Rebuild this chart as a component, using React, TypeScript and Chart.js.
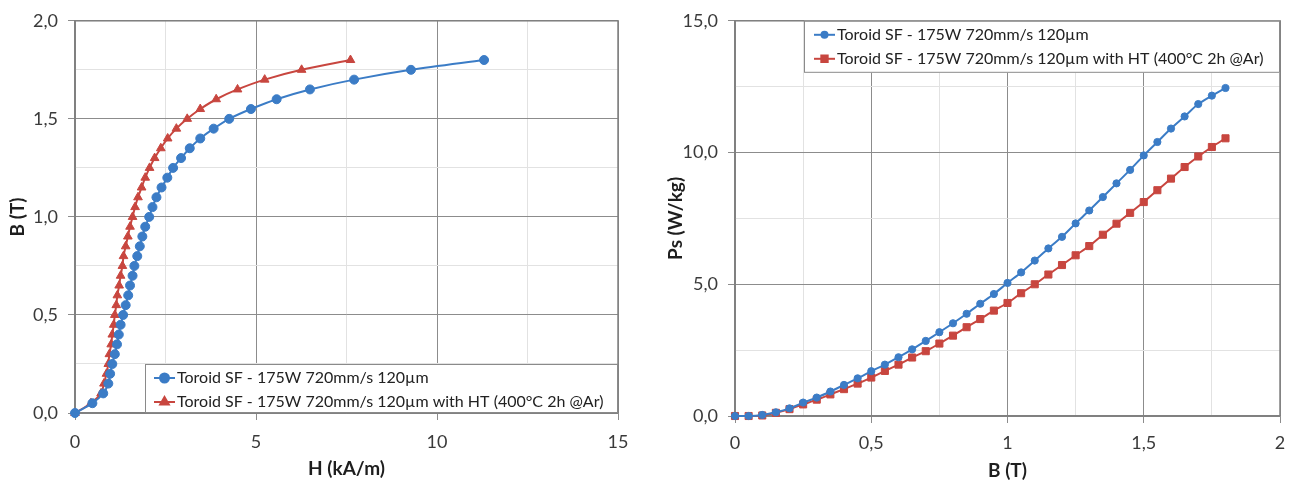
import React, { useEffect, useRef } from 'react';
import { Chart, registerables } from 'chart.js';
import { drawPoint } from 'chart.js/helpers';

Chart.register(...registerables);

// ---------- data ----------
const B_LEVELS = [
  0, 0.05, 0.1, 0.15, 0.2, 0.25, 0.3, 0.35, 0.4, 0.45, 0.5, 0.55, 0.6, 0.65, 0.7, 0.75,
  0.8, 0.85, 0.9, 0.95, 1.0, 1.05, 1.1, 1.15, 1.2, 1.25, 1.3, 1.35, 1.4, 1.45, 1.5, 1.55,
  1.6, 1.65, 1.7, 1.75, 1.8,
];

const H_AS_BUILT = [
  0, 0.48, 0.78, 0.92, 0.97, 1.03, 1.1, 1.16, 1.21, 1.26, 1.33, 1.4, 1.47, 1.52, 1.59, 1.64,
  1.72, 1.79, 1.86, 1.94, 2.05, 2.14, 2.25, 2.39, 2.55, 2.71, 2.93, 3.17, 3.46, 3.83, 4.26, 4.86,
  5.57, 6.49, 7.71, 9.28, 11.3,
];

const H_HT = [
  0, 0.44, 0.72, 0.8, 0.87, 0.92, 0.95, 1.0, 1.03, 1.07, 1.1, 1.14, 1.17, 1.22, 1.26, 1.31,
  1.34, 1.4, 1.46, 1.52, 1.59, 1.66, 1.74, 1.84, 1.94, 2.06, 2.2, 2.37, 2.56, 2.8, 3.1, 3.46,
  3.9, 4.49, 5.24, 6.26, 7.61,
];

const PS_AS_BUILT = [
  0, 0, 0.04, 0.14, 0.29, 0.51, 0.7, 0.93, 1.18, 1.43, 1.7, 1.95, 2.23, 2.53, 2.85, 3.18,
  3.52, 3.88, 4.26, 4.63, 5.05, 5.45, 5.9, 6.36, 6.8, 7.31, 7.8, 8.31, 8.83, 9.34, 9.89, 10.4,
  10.91, 11.37, 11.84, 12.16, 12.45,
];

const PS_HT = [
  0, 0, 0.02, 0.12, 0.26, 0.44, 0.62, 0.82, 1.02, 1.23, 1.46, 1.71, 1.95, 2.22, 2.46, 2.75,
  3.05, 3.37, 3.68, 4.0, 4.29, 4.66, 5.0, 5.37, 5.73, 6.1, 6.45, 6.88, 7.3, 7.71, 8.12, 8.57,
  9.01, 9.45, 9.85, 10.21, 10.54,
];

const SERIES_AS_BUILT = 'Toroid SF - 175W 720mm/s 120µm';
const SERIES_HT = 'Toroid SF - 175W 720mm/s 120µm with HT (400°C 2h @Ar)';

const LEFT_X_TITLE = 'H (kA/m)';
const LEFT_Y_TITLE = 'B (T)';
const RIGHT_X_TITLE = 'B (T)';
const RIGHT_Y_TITLE = 'Ps (W/kg)';

// ---------- styles ----------
const BLUE = '#3B7CC6';
const RED = '#C8463F';
const MAJOR = '#8c8c8c';
const MINOR = '#e2e2e2';
const FRAME = '#808080';
const TICK_COLOR = '#3a3a3a';
const TITLE_COLOR = '#1e1e1e';
const FONT = 'Lato, "Open Sans", sans-serif';

const comma = (v: number, digits?: number) =>
  (digits === undefined ? String(v) : v.toFixed(digits)).replace('.', ',');

const isMult = (v: number, step: number) => Math.abs(v / step - Math.round(v / step)) < 1e-6;

const framePlugin = {
  id: 'frame',
  beforeDatasetsDraw(chart: any) {
    const { ctx, chartArea } = chart;
    ctx.save();
    ctx.strokeStyle = FRAME;
    ctx.lineWidth = 1.5;
    ctx.strokeRect(chartArea.left, chartArea.top, chartArea.right - chartArea.left, chartArea.bottom - chartArea.top);
    ctx.restore();
  },
};

const boxLegendPlugin = {
  id: 'boxLegend',
  afterDraw(chart: any, _args: any, o: any) {
    const { ctx, chartArea } = chart;
    const x = chartArea.right - o.width;
    const y = o.corner === 'bottom' ? chartArea.bottom - o.height : chartArea.top;
    ctx.save();
    ctx.fillStyle = '#ffffff';
    ctx.fillRect(x, y, o.width, o.height);
    ctx.strokeStyle = '#8a8a8a';
    ctx.lineWidth = 1;
    ctx.strokeRect(x + 0.5, y + 0.5, o.width - 1, o.height - 1);
    chart.data.datasets.forEach((ds: any, i: number) => {
      const ry = y + o.rows[i];
      const lx = x + o.lineStart;
      ctx.strokeStyle = ds.borderColor;
      ctx.fillStyle = ds.borderColor;
      ctx.lineWidth = 2;
      ctx.beginPath();
      ctx.moveTo(lx, ry);
      ctx.lineTo(lx + o.lineLen, ry);
      ctx.stroke();
      drawPoint(ctx, { pointStyle: ds.pointStyle, radius: o.markerRadius[i], rotation: 0, borderWidth: 1 } as any, lx + o.lineLen / 2, ry);
      ctx.fillStyle = '#222222';
      ctx.font = `${o.fontSize}px ${FONT}`;
      ctx.textBaseline = 'middle';
      ctx.textAlign = 'left';
      ctx.fillText(ds.label, lx + o.lineLen + 2, ry);
    });
    ctx.restore();
  },
};

type AxisSpec = {
  min: number;
  max: number;
  step: number;
  major: number;
  fmt: (v: number) => string;
  title: string;
  size: number;
  tickPad: number;
  titlePad: any;
};

function makeAxis(a: AxisSpec, horizontal: boolean) {
  return {
    type: 'linear',
    position: horizontal ? 'bottom' : 'left',
    min: a.min,
    max: a.max,
    afterFit(scale: any) {
      if (horizontal) scale.height = a.size;
      else scale.width = a.size;
    },
    afterBuildTicks(scale: any) {
      const ticks = [];
      const n = Math.round((a.max - a.min) / a.step);
      for (let i = 0; i <= n; i++) ticks.push({ value: a.min + i * a.step });
      scale.ticks = ticks;
    },
    ticks: {
      autoSkip: false,
      maxRotation: 0,
      padding: a.tickPad,
      color: TICK_COLOR,
      font: { family: FONT, size: 18 },
      callback: (v: number) => (isMult(v, a.major) ? a.fmt(v) : ''),
    },
    grid: {
      color: (c: any) => (c.tick && isMult(c.tick.value, a.major) ? MAJOR : MINOR),
      tickColor: (c: any) => (c.tick && isMult(c.tick.value, a.major) ? MAJOR : 'rgba(0,0,0,0)'),
      tickLength: 7,
      lineWidth: 1,
    },
    border: { display: true, color: FRAME, width: 1.5 },
    title: {
      display: true,
      text: a.title,
      color: TITLE_COLOR,
      font: { family: FONT, size: 19, weight: 'bold' },
      padding: a.titlePad,
    },
  };
}

function ChartCanvas({ config, width, height, left }: any) {
  const ref = useRef<HTMLCanvasElement>(null);
  useEffect(() => {
    if (!ref.current) return;
    const chart = new Chart(ref.current, config);
    return () => chart.destroy();
  }, []);
  return (
    <canvas
      ref={ref}
      width={width}
      height={height}
      style={{ position: 'absolute', left, top: 0, width, height }}
    />
  );
}

const toPoints = (xs: number[], ys: number[]) => xs.map((x, i) => ({ x, y: ys[i] }));

const leftConfig: any = {
  type: 'scatter',
  data: {
    datasets: [
      {
        label: SERIES_AS_BUILT,
        data: toPoints(H_AS_BUILT, B_LEVELS),
        showLine: true,
        clip: false,
        borderColor: BLUE,
        backgroundColor: BLUE,
        borderWidth: 2,
        tension: 0.3,
        pointStyle: 'circle',
        pointRadius: 4.5,
        pointBorderWidth: 1,
      },
      {
        label: SERIES_HT,
        data: toPoints(H_HT, B_LEVELS),
        showLine: true,
        clip: false,
        borderColor: RED,
        backgroundColor: RED,
        borderWidth: 2,
        tension: 0.3,
        pointStyle: 'triangle',
        pointRadius: 5,
        pointBorderWidth: 1,
      },
    ],
  },
  options: {
    responsive: false,
    animation: false,
    devicePixelRatio: 1,
    layout: { padding: { top: 18, right: 32, bottom: 0, left: 0 } },
    scales: {
      x: makeAxis({ min: 0, max: 15, step: 2.5, major: 5, fmt: (v) => String(v), title: LEFT_X_TITLE, size: 69, tickPad: 11, titlePad: { top: 0, bottom: 2 } }, true),
      y: makeAxis({ min: 0, max: 2, step: 0.25, major: 0.5, fmt: (v) => comma(v, 1), title: LEFT_Y_TITLE, size: 75, tickPad: 10, titlePad: { top: 6, bottom: 0 } }, false),
    },
    plugins: {
      legend: { display: false },
      tooltip: { enabled: false },
      boxLegend: {
        corner: 'bottom',
        width: 473,
        height: 49,
        rows: [14, 38],
        lineStart: 9,
        lineLen: 21,
        markerRadius: [4.5, 5],
        fontSize: 16,
      },
    },
  },
  plugins: [framePlugin, boxLegendPlugin],
};

const rightConfig: any = {
  type: 'scatter',
  data: {
    datasets: [
      {
        label: SERIES_AS_BUILT,
        data: toPoints(B_LEVELS, PS_AS_BUILT),
        showLine: true,
        clip: false,
        borderColor: BLUE,
        backgroundColor: BLUE,
        borderWidth: 2,
        tension: 0.3,
        pointStyle: 'circle',
        pointRadius: 3.6,
        pointBorderWidth: 1,
      },
      {
        label: SERIES_HT,
        data: toPoints(B_LEVELS, PS_HT),
        showLine: true,
        clip: false,
        borderColor: RED,
        backgroundColor: RED,
        borderWidth: 2,
        tension: 0.3,
        pointStyle: 'rect',
        pointRadius: 5,
        pointBorderWidth: 1,
      },
    ],
  },
  options: {
    responsive: false,
    animation: false,
    devicePixelRatio: 1,
    layout: { padding: { top: 17, right: 19, bottom: 0, left: 0 } },
    scales: {
      x: makeAxis({ min: 0, max: 2, step: 0.25, major: 0.5, fmt: (v) => comma(v), title: RIGHT_X_TITLE, size: 66, tickPad: 9, titlePad: { top: 0, bottom: 0 } }, true),
      y: makeAxis({ min: 0, max: 15, step: 2.5, major: 5, fmt: (v) => comma(v, 1), title: RIGHT_Y_TITLE, size: 85, tickPad: 10, titlePad: { top: 14, bottom: 0 } }, false),
    },
    plugins: {
      legend: { display: false },
      tooltip: { enabled: false },
      boxLegend: {
        corner: 'top',
        width: 476,
        height: 52,
        rows: [14, 38],
        lineStart: 10,
        lineLen: 21,
        markerRadius: [3, 4.5],
        fontSize: 16,
      },
    },
  },
  plugins: [framePlugin, boxLegendPlugin],
};

export default function App() {
  return (
    <div style={{ position: 'absolute', left: 0, top: 0, width: 1299, height: 482, background: '#ffffff', overflow: 'hidden' }}>
      <ChartCanvas config={leftConfig} width={650} height={482} left={0} />
      <ChartCanvas config={rightConfig} width={649} height={482} left={650} />
    </div>
  );
}
